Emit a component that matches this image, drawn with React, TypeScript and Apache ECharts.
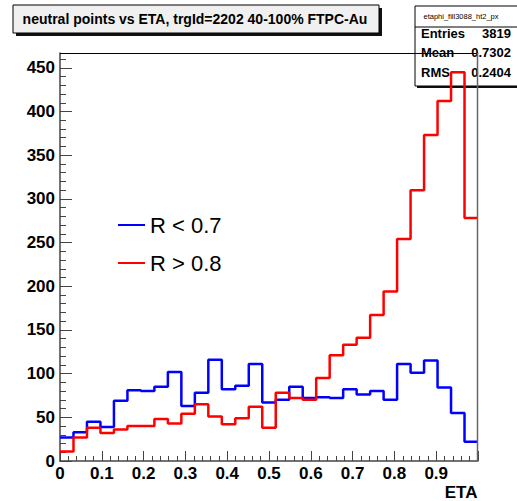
import React, { useEffect, useRef } from "react";
import * as echarts from "echarts";

const binCount = 31;
const xMin = 0;
const xMax = 1;
const yMax = 467;

// R < 0.7 (blue) histogram contents, one value per bin
const blueValues = [27, 33, 45, 39, 69, 81, 80, 85, 102, 63, 78, 116, 82, 86, 111, 67, 70, 85, 72, 73, 72, 82, 76, 80, 70, 111, 101, 115, 84, 55, 22];
// R > 0.8 (red) histogram contents
const redValues = [11, 27, 38, 32, 36, 40, 40, 48, 43, 54, 65, 51, 42, 49, 62, 38, 78, 72, 70, 95, 121, 133, 141, 167, 194, 254, 310, 373, 412, 445, 278];

const seriesNames = ["R < 0.7", "R > 0.8"];
const titleText = "neutral points vs ETA, trgId=2202 40-100% FTPC-Au";
const statsName = "etaphi_fill3088_ht2_px";
const statsLabels = ["Entries", "Mean", "RMS"];
const statsValues = ["3819", "0.7302", "0.2404"];
const xAxisTitle = "ETA";

const FONT = "'Liberation Sans', Arial, Helvetica, sans-serif";

function toSteps(values: number[]): number[][] {
  const w = (xMax - xMin) / binCount;
  const pts = values.map((v, i) => [xMin + i * w, v]);
  pts.push([xMax, values[values.length - 1]]);
  return pts;
}

export default function App() {
  const ref = useRef<HTMLDivElement>(null);
  useEffect(() => {
    if (!ref.current) return;
    const chart = echarts.init(ref.current, undefined, { renderer: "svg" });
    const axisColor = "#444";
    const gl = 60, gt = 53, gw = 418, gh = 408;
    const statsX = 415, statsY = 6, statsW = 115, statsH = 80;
    const option: any = {
      animation: false,
      backgroundColor: "#fff",
      grid: { left: gl, top: gt, width: gw, height: gh, containLabel: false },
      legend: {
        orient: "vertical",
        left: 118,
        top: 213,
        padding: 0,
        itemWidth: 27,
        itemHeight: 2,
        itemGap: 14,
        icon: "rect",
        textStyle: { fontFamily: FONT, fontSize: 22, color: "#000", lineHeight: 24 },
        data: seriesNames,
      },
      xAxis: {
        type: "value",
        min: xMin,
        max: xMax,
        interval: 0.1,
        axisLine: { show: true, lineStyle: { color: axisColor, width: 1.5 } },
        axisTick: { show: true, inside: true, length: 10, lineStyle: { color: axisColor, width: 1 } },
        minorTick: { show: true, splitNumber: 5, length: 5, lineStyle: { color: axisColor, width: 1 } },
        splitLine: { show: false },
        axisLabel: {
          showMaxLabel: false,
          margin: 4,
          fontFamily: FONT,
          fontSize: 17,
          fontWeight: "bold",
          color: "#000",
          formatter: (v: number) => (v === 0 ? "0" : v.toFixed(1)),
        },
      },
      yAxis: [
        {
          type: "value",
          min: 0,
          max: yMax,
          interval: 10,
          position: "left",
          axisLine: { show: true, lineStyle: { color: axisColor, width: 1.5 } },
          axisTick: { show: true, inside: true, length: 6, lineStyle: { color: axisColor, width: 1 } },
          axisLabel: { show: false },
          splitLine: { show: false },
        },
        {
          type: "value",
          min: 0,
          max: yMax,
          interval: 50,
          position: "left",
          offset: 0,
          axisLine: { show: false },
          axisTick: { show: true, inside: true, length: 12, lineStyle: { color: axisColor, width: 1 } },
          splitLine: { show: false },
          axisLabel: {
            margin: 5,
            fontFamily: FONT,
            fontSize: 17,
            fontWeight: "bold",
            color: "#000",
            formatter: (v: number) => (v % 50 === 0 ? String(v) : ""),
          },
        },
      ],
      series: [
        {
          name: seriesNames[0],
          type: "line",
          step: "end",
          symbol: "none",
          yAxisIndex: 0,
          color: "#0000ff",
          lineStyle: { color: "#0000ff", width: 2.5 },
          data: toSteps(blueValues),
          z: 3,
        },
        {
          name: seriesNames[1],
          type: "line",
          step: "end",
          symbol: "none",
          yAxisIndex: 0,
          color: "#ff0000",
          lineStyle: { color: "#ff0000", width: 2.5 },
          data: toSteps(redValues),
          z: 4,
        },
      ],
      graphic: [
        // title box with shadow
        { type: "rect", z: 1, shape: { x: 16, y: 8, width: 366, height: 28 }, style: { fill: "#111" } },
        { type: "rect", z: 1, shape: { x: 13, y: 5, width: 366, height: 28 }, style: { fill: "#f0f0f0", stroke: "#000", lineWidth: 1 } },
        {
          type: "text", z: 2, x: 195, y: 19,
          style: { text: titleText, fontFamily: FONT, fontSize: 14, fontWeight: "bold", fill: "#000", align: "center", verticalAlign: "middle" },
        },
        // stats box with shadow
        { type: "rect", z: 1, shape: { x: statsX + 2, y: statsY + 2, width: statsW, height: statsH }, style: { fill: "#111" } },
        { type: "rect", z: 1, shape: { x: statsX, y: statsY, width: statsW, height: statsH }, style: { fill: "#fff", stroke: "#000", lineWidth: 1 } },
        { type: "line", z: 1, shape: { x1: statsX, y1: 27, x2: statsX + statsW, y2: 27 }, style: { stroke: "#000", lineWidth: 1 } },
        {
          type: "text", z: 2, x: 461, y: 16,
          style: { text: statsName, fontFamily: FONT, fontSize: 7.5, fill: "#000", align: "center", verticalAlign: "middle" },
        },
        ...statsLabels.map((l, i) => ({
          type: "text", z: 2, x: 421, y: [33.5, 52.5, 72.5][i],
          style: { text: l, fontFamily: FONT, fontSize: 13, fontWeight: "bold", fill: "#000", align: "left", verticalAlign: "middle" },
        })),
        ...statsValues.map((v, i) => ({
          type: "text", z: 2, x: 511, y: [33.5, 52.5, 72.5][i],
          style: { text: v, fontFamily: FONT, fontSize: 13, fontWeight: "bold", fill: "#000", align: "right", verticalAlign: "middle" },
        })),
        // frame top and right lines (drawn over the stats box)
        { type: "line", z: 10, shape: { x1: gl, y1: gt + 0.5, x2: gl + gw, y2: gt + 0.5 }, style: { stroke: "#000", lineWidth: 1 } },
        { type: "line", z: 10, shape: { x1: gl + gw - 0.5, y1: gt, x2: gl + gw - 0.5, y2: gt + gh }, style: { stroke: "#666", lineWidth: 1.5 } },
        // x axis title
        {
          type: "text", z: 2, x: 477.5, y: 492,
          style: { text: xAxisTitle, fontFamily: FONT, fontSize: 17, fontWeight: "bold", fill: "#000", align: "right", verticalAlign: "middle" },
        },
      ],
    };
    chart.setOption(option);
    return () => chart.dispose();
  }, []);
  return (
    <div
      ref={ref}
      style={{ position: "fixed", left: 0, top: 0, width: 517, height: 501, background: "#fff" }}
    />
  );
}
